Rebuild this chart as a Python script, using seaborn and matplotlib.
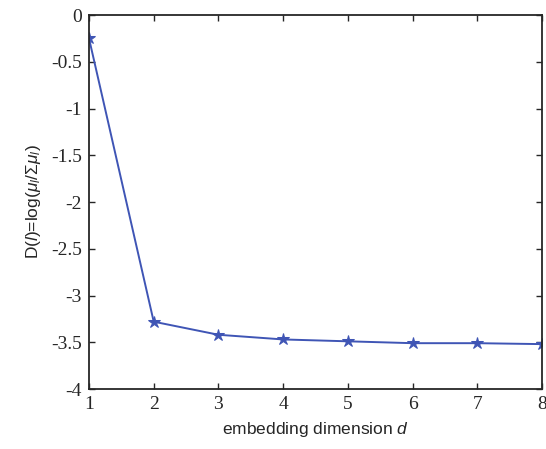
import numpy as np
import pandas as pd
import seaborn as sns
import matplotlib.pyplot as plt

dims = [1, 2, 3, 4, 5, 6, 7, 8]
dvals = [-0.25, -3.28, -3.42, -3.47, -3.49, -3.51, -3.51, -3.52]
xticks = [1, 2, 3, 4, 5, 6, 7, 8]
yticks = [0, -0.5, -1, -1.5, -2, -2.5, -3, -3.5, -4]

data = pd.DataFrame({'d': dims, 'D': dvals})

sns.set_style('ticks')
plt.rcParams['font.family'] = ['Liberation Serif', 'DejaVu Serif']
plt.rcParams['mathtext.fontset'] = 'custom'
plt.rcParams['mathtext.it'] = 'Liberation Sans:italic'
plt.rcParams['mathtext.rm'] = 'Liberation Sans'

fig = plt.figure(figsize=(5.46, 4.49), dpi=100)
ax = fig.add_axes([89/546, 60/449, 453/546, 374/449])
sns.lineplot(data=data, x='d', y='D', ax=ax, color='#3f55b5', linewidth=1.4,
             marker='*', markersize=9, markeredgecolor='#3f55b5')

ax.set_xlim(1, 8)
ax.set_ylim(-4, 0)
ax.set_xticks(xticks)
ax.set_xticklabels([str(t) for t in xticks])
ax.set_yticks(yticks)
ax.set_yticklabels([('%g' % t) for t in yticks])
ax.tick_params(direction='in', top=True, right=True, labelsize=14, length=4, width=1, pad=5)
for s in ax.spines.values():
    s.set_linewidth(1.3)
    s.set_visible(True)

ax.set_xlabel('embedding dimension $d$', family='Liberation Sans', fontsize=12.5, labelpad=5)
ax.set_ylabel(r'D($l$)=log($\mu_l$/$\Sigma\mu_l$)', family='Liberation Sans', fontsize=12.5, labelpad=6)

fig.savefig('out.png', dpi=100)
